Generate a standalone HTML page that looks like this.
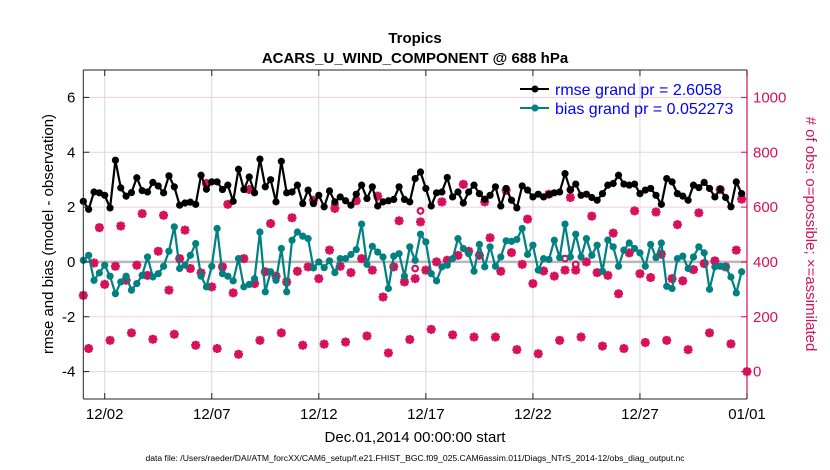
<!DOCTYPE html>
<html><head><meta charset="utf-8"><style>
html,body{margin:0;padding:0;background:#fff;}
svg{display:block;font-family:"Liberation Sans",sans-serif;}
</style></head><body>
<svg id="chart" width="830" height="470" viewBox="0 0 830 470">
<text x="415" y="43" text-anchor="middle" font-size="15" font-weight="bold">Tropics</text>
<text x="415" y="63" text-anchor="middle" font-size="15" font-weight="bold">ACARS_U_WIND_COMPONENT @ 688 hPa</text>
<g id="grid"></g>
<g id="marks"></g>
<g id="axes"></g>
<text transform="translate(53,234) rotate(-90)" text-anchor="middle" font-size="15">rmse and bias (model - observation)</text>
<text transform="translate(806,234) rotate(90)" text-anchor="middle" font-size="15" fill="#d6105a"># of obs: o=possible; ×=assimilated</text>
<text x="415" y="442" text-anchor="middle" font-size="15">Dec.01,2014 00:00:00 start</text>
<text x="415" y="461" text-anchor="middle" font-size="8.6">data file: /Users/raeder/DAI/ATM_forcXX/CAM6_setup/f.e21.FHIST_BGC.f09_025.CAM6assim.011/Diags_NTrS_2014-12/obs_diag_output.nc</text>
<g>
<line x1="520" y1="89" x2="549" y2="89" stroke="#000" stroke-width="2"/>
<circle cx="535" cy="89" r="3.5" fill="#000"/>
<text x="555" y="95" font-size="16" fill="#0000ff">rmse grand pr = 2.6058</text>
<line x1="520" y1="108" x2="549" y2="108" stroke="#008080" stroke-width="2"/>
<circle cx="535" cy="108" r="3.5" fill="#008080"/>
<text x="555" y="114" font-size="16" fill="#0000ff">bias grand pr = 0.052273</text>
</g>
</svg>
<script>
const rmse=[2.21,1.92,2.55,2.52,2.43,1.97,3.71,2.70,2.40,2.53,3.07,2.60,2.55,2.90,2.77,2.52,3.14,2.74,2.07,2.15,2.18,2.10,
3.16,2.65,2.92,2.92,2.64,2.80,2.21,3.38,2.64,3.10,2.52,3.75,2.74,3.00,2.19,3.67,2.52,2.55,
2.80,2.13,2.62,2.13,2.43,2.01,2.59,2.19,2.37,2.23,2.07,2.47,2.80,2.31,2.74,2.04,2.19,2.23,2.28,2.74,2.28,
2.19,3.04,3.28,2.68,2.04,2.52,2.55,3.08,2.37,2.55,2.15,2.55,2.80,2.49,2.28,2.43,2.74,2.04,2.68,
2.25,1.97,2.77,2.62,2.37,2.47,2.37,2.46,2.52,2.55,3.22,2.62,2.84,2.43,2.47,2.35,2.25,2.49,2.80,2.86,
3.16,2.84,2.80,2.84,2.49,2.62,2.68,2.43,2.10,3.04,2.92,2.49,2.40,2.25,2.80,2.71,2.90,2.68,2.37,2.65,2.35,2.01,2.92,2.49];
const bias=[0.06,0.24,-0.67,-0.40,-0.12,-0.52,-1.16,-0.73,-0.52,-1.03,-0.79,-0.49,0.18,-0.55,-0.43,-0.16,0.39,1.28,-0.24,-0.12,0.24,0.67,
-0.52,-0.91,-0.16,1.22,-0.43,-0.52,-0.69,0.12,-0.91,-0.82,-0.61,1.09,-1.09,-0.36,-0.67,0.49,-1.09,0.79,
1.09,0.94,0.85,-0.22,0.0,-0.21,0.04,-0.39,0.12,0.12,0.27,0.45,1.38,-0.09,0.57,0.36,0.18,-0.97,0.21,0.30,-0.52,
0.55,0.06,1.01,0.73,-0.43,-0.69,-0.18,-0.12,0.12,0.85,0.49,0.30,-0.34,0.64,-0.18,0.55,-0.16,0.18,0.77,
0.75,0.82,1.22,0.27,0.61,-0.30,0.12,0.09,0.79,0.16,1.38,0.18,1.01,0.18,0.85,0.24,0.61,-0.34,0.80,0.55,
-0.16,0.43,0.69,0.49,0.33,-0.16,0.64,0.16,0.69,-0.89,-0.97,0.12,0.21,-0.24,0.18,0.55,0.33,-1.0,-0.18,-0.16,-0.18,-0.55,-1.13,-0.36];
const obsAssim=[278,84,396,525,318,114,384,531,333,141,388,576,351,118,439,570,297,136,412,516,376,96,
360,686,309,84,382,610,287,63,412,664,321,114,364,540,348,141,327,561,
366,96,382,625,339,100,443,595,384,108,361,623,412,130,370,640,272,68,382,550,327,
117,339,546,370,154,400,619,406,134,424,683,439,126,424,619,488,126,366,661,
434,80,391,556,321,65,367,647,348,114,370,635,370,126,400,567,361,93,351,505,
284,84,433,586,357,106,343,582,428,114,339,536,331,80,372,579,394,141,404,664,382,101,443,629,0];
const obsPoss=obsAssim.slice();
const possDiffIdx=[47,62,63,75,90,91,92];
const possDiffVal=[609,376,586,628,412,664,391];
possDiffIdx.forEach((k,i)=>{obsPoss[k]=possDiffVal[i];});
const leftTicks=[-4,-2,0,2,4,6];
const rightTicks=[0,200,400,600,800,1000];
const xTickDays=[1,6,11,16,21,26,31];
const xTickLabels=["12/02","12/07","12/12","12/17","12/22","12/27","01/01"];

const X0=83.3,X1=747,Y0=70,Y1=399;
const xs=d=>X0+(d-0)*(X1-X0)/31;
const ys=v=>Y1-(v-(-5))*(Y1-Y0)/12;
const yr=c=>ys(c/100-4);
const NS="http://www.w3.org/2000/svg";
function mk(tag,attrs,parent){const e=document.createElementNS(NS,tag);for(const k in attrs)e.setAttribute(k,attrs[k]);parent.appendChild(e);return e;}
const grid=document.getElementById('grid'),marks=document.getElementById('marks'),axes=document.getElementById('axes');
mk('rect',{x:X0,y:Y0,width:X1-X0,height:Y1-Y0,fill:'#fff'},grid);
leftTicks.forEach(v=>{const l=mk('line',{x1:X0,x2:X1,y1:ys(v),y2:ys(v),stroke:'#f3cfdc','stroke-width':1},grid);

});
xTickDays.forEach(d=>{const l=mk('line',{x1:xs(d),x2:xs(d),y1:Y0,y2:Y1,stroke:'#d8d8d8','stroke-width':1},grid);

});
const zl=mk('line',{x1:X0,x2:X1,y1:ys(0),y2:ys(0),stroke:'#b8b8b8','stroke-width':2.5},grid);


const col='#d6105a';
function obsMark(k,c,g,circle){const x=xs(k*0.25),y=yr(c);
 if(circle){mk('circle',{cx:x,cy:y,r:2.8,fill:'none',stroke:col,'stroke-width':2.2},g);}
 else{const r=4.5,q=3.3;
 mk('path',{d:`M${x-r},${y}H${x+r}M${x},${y-r}V${y+r}M${x-q},${y-q}L${x+q},${y+q}M${x-q},${y+q}L${x+q},${y-q}`,stroke:col,'stroke-width':2.6,fill:'none'},g);}}
const gp=mk('g',{},marks);


obsPoss.forEach((c,k)=>obsMark(k,c,gp,true));
const ga=mk('g',{},marks);


obsAssim.forEach((c,k)=>obsMark(k,c,ga,false));
function series(arr,color,name){const g=mk('g',{},marks);
 
 
 mk('polyline',{points:arr.map((v,k)=>xs(k*0.25)+','+ys(v)).join(' '),fill:'none',stroke:color,'stroke-width':2.2,'stroke-linejoin':'round'},g);
 arr.forEach((v,k)=>{const c=mk('circle',{cx:xs(k*0.25),cy:ys(v),r:3.6,fill:color},g);
 
 });}
series(bias,'#008080','bias-series');
series(rmse,'#000000','rmse-series');
mk('line',{x1:X0,x2:X1,y1:Y0,y2:Y0,stroke:'#222','stroke-width':1},axes);
mk('line',{x1:X0,x2:X1,y1:Y1,y2:Y1,stroke:'#222','stroke-width':1},axes);
mk('line',{x1:X0,x2:X0,y1:Y0,y2:Y1,stroke:'#222','stroke-width':1},axes);
mk('line',{x1:X1,x2:X1,y1:Y0,y2:Y1,stroke:col,'stroke-width':1.2},axes);
leftTicks.forEach(v=>{mk('line',{x1:X0,x2:X0+6,y1:ys(v),y2:ys(v),stroke:'#222'},axes);
 const t=mk('text',{x:X0-8,y:ys(v)+5,'text-anchor':'end','font-size':15},axes);t.textContent=v;
 
 });
rightTicks.forEach(c=>{mk('line',{x1:X1-6,x2:X1,y1:yr(c),y2:yr(c),stroke:col},axes);
 const t=mk('text',{x:X1+6,y:yr(c)+5,'font-size':15,fill:col},axes);t.textContent=c;
 
 });
xTickDays.forEach((d,i)=>{mk('line',{x1:xs(d),x2:xs(d),y1:Y1-6,y2:Y1,stroke:'#222'},axes);
 mk('line',{x1:xs(d),x2:xs(d),y1:Y0,y2:Y0+6,stroke:'#222'},axes);
 const t=mk('text',{x:xs(d),y:Y1+20,'text-anchor':'middle','font-size':15},axes);t.textContent=xTickLabels[i];
 
 });
</script>
</body></html>
